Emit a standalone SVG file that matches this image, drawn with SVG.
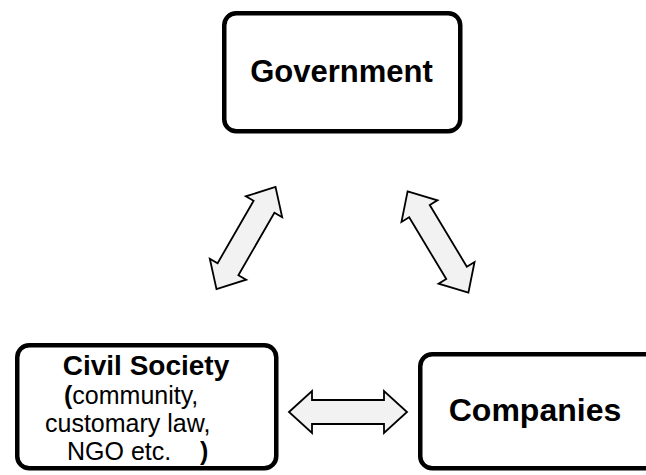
<svg xmlns="http://www.w3.org/2000/svg" width="646" height="475" viewBox="0 0 646 475">
<style>
.box{fill:#fff;stroke:#000;stroke-width:4.5}
.arrow{fill:#f2f2f2;stroke:#000;stroke-width:1.8;stroke-linejoin:miter}
.t{font-family:"Liberation Sans",Arial,sans-serif;fill:#000}
.b{font-weight:bold}
</style>
<defs>
<polygon id="dbl" points="-59,0 -36,-21 -36,-12 36,-12 36,-21 59,0 36,21 36,12 -36,12 -36,21"/>
</defs>
<rect width="646" height="475" fill="#fff"/>
<g id="connectors">
<use href="#dbl" class="arrow" transform="translate(246,238) rotate(-60)"/>
<use href="#dbl" class="arrow" transform="translate(438,242) rotate(59)"/>
<use href="#dbl" class="arrow" transform="translate(348,412)"/>
</g>
<g id="government">
<rect class="box" x="224.25" y="13.25" width="236" height="118" rx="12"/>
<text class="t b" x="341.5" y="82" font-size="31" text-anchor="middle">Government</text>
</g>
<g id="civil-society">
<rect class="box" x="17.25" y="345.25" width="259" height="123" rx="12"/>
<text class="t b" x="146" y="375" font-size="28" text-anchor="middle">Civil Society</text>
<text class="t" x="64" y="404" font-size="25"><tspan class="b">(</tspan>community,</text>
<text class="t" x="45" y="432" font-size="25">customary law,</text>
<text class="t" x="67" y="460" font-size="25">NGO etc.<tspan class="b" x="200">)</tspan></text>
</g>
<g id="companies">
<rect class="box" x="420.25" y="354.25" width="260" height="114" rx="12"/>
<text class="t b" x="535" y="421" font-size="32" text-anchor="middle">Companies</text>
</g>
</svg>
